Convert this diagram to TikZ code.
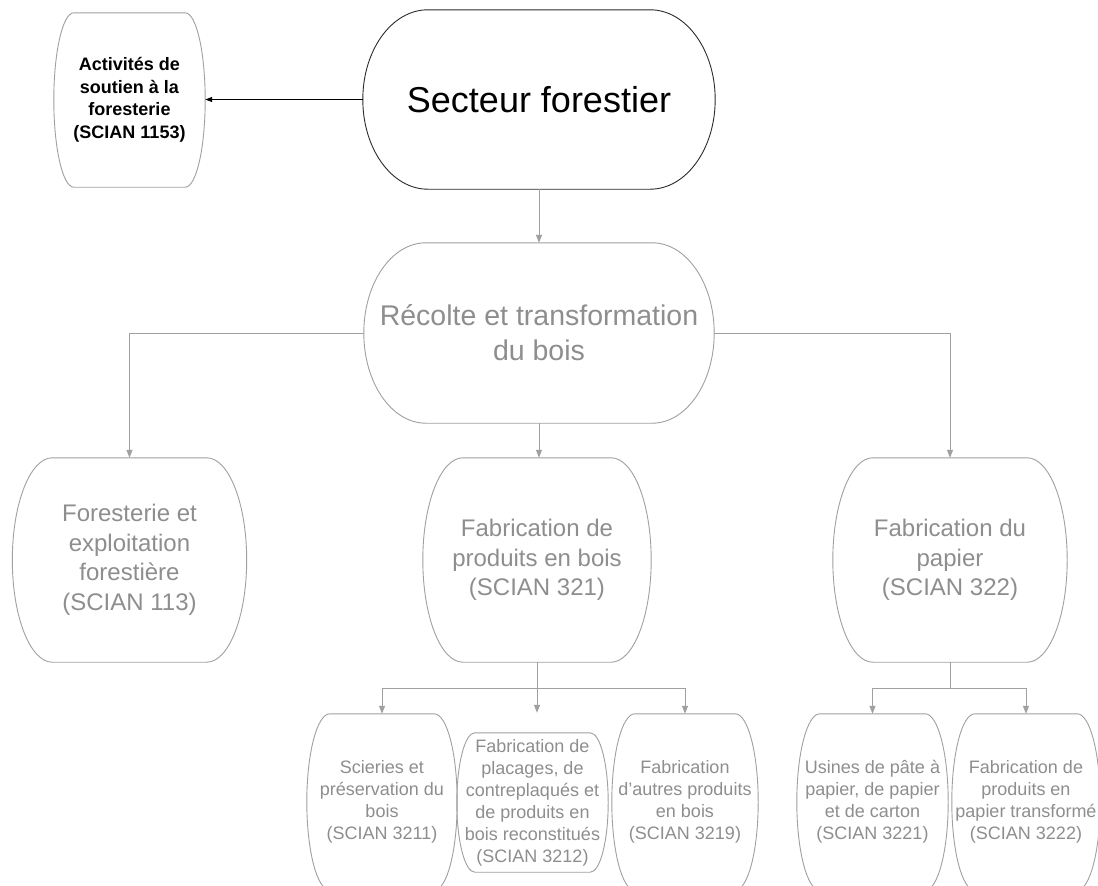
\documentclass[tikz,border=0pt]{standalone}
\usepackage{fontspec}
\setmainfont{Liberation Sans}
\usepackage{tikz}
\usetikzlibrary{arrows.meta,calc}
\definecolor{linegray}{HTML}{A0A0A0}
\definecolor{textgray}{HTML}{8E8E8E}
\definecolor{edgedark}{HTML}{2B2B2B}
\newcommand{\capsule}[3][linegray]{%
  \draw[#1,line width=0.9pt] let \p1=(#2.north east), \p2=(#2.south west), \n1={(\y1-\y2)/2} in
    (\x2+#3,\y1) -- (\x1-#3,\y1) arc[start angle=90,end angle=-90,x radius=#3,y radius=\n1]
    -- (\x2+#3,\y2) arc[start angle=270,end angle=90,x radius=#3,y radius=\n1] -- cycle;}

\begin{document}
\begin{tikzpicture}[x=1pt,y=-1pt,
  box/.style={rectangle,inner sep=2pt,align=center,text=textgray},
  big/.style={box,font=\fontsize{24}{29.5}\selectfont,minimum height=204pt},
  small/.style={box,font=\fontsize{18}{22}\selectfont,minimum width=150pt},
  gl/.style={draw=linegray,line width=1pt,-{Triangle[length=8pt,width=6pt]}},
  bl/.style={draw=black,line width=1pt,-{Triangle[length=7pt,width=5pt]}}]
\fill[white] (0,0) rectangle (1098,886);
\useasboundingbox (0,0) rectangle (1098,886);
\node[box,text=black,font=\bfseries\fontsize{18}{22.5}\selectfont,
      minimum width=151pt,minimum height=174pt] (act) at (129.5,100)
  {Activités de\\soutien à la\\foresterie\\(SCIAN 1153)};
\node[box,text=black,font=\fontsize{36}{43}\selectfont,
      minimum width=352pt,minimum height=179pt] (sect) at (539,99.5) {Secteur forestier};
\node[box,font=\fontsize{28.5}{35}\selectfont,
      minimum width=350pt,minimum height=180pt] (rec) at (539,333)
  {Récolte et transformation\\du bois};
\node[big,minimum width=234pt] (for) at (129.5,560)
  {Foresterie et\\exploitation\\forestière\\(SCIAN 113)};
\node[big,minimum width=228pt] (fabb) at (537,560)
  {Fabrication de\\produits en bois\\(SCIAN 321)};
\node[big,minimum width=234pt] (pap) at (950,560)
  {Fabrication du\\papier\\(SCIAN 322)};
\node[small,minimum height=176pt] (sci) at (382,802) {Scieries et\\préservation du\\bois\\(SCIAN 3211)};
\node[small,minimum width=151pt,minimum height=139pt] (plac) at (532.5,802.5)
  {Fabrication de\\placages, de\\contreplaqués et\\de produits en\\bois reconstitués\\(SCIAN 3212)};
\node[small,minimum width=146pt,minimum height=176pt] (aut) at (685,802)
  {Fabrication\\d'autres produits\\en bois\\(SCIAN 3219)};
\node[small,minimum width=151pt,minimum height=176pt] (usi) at (872.5,802)
  {Usines de pâte à\\papier, de papier\\et de carton\\(SCIAN 3221)};
\node[small,minimum width=148pt,minimum height=176pt] (ppt) at (1026,802)
  {Fabrication de\\produits en\\papier transformé\\(SCIAN 3222)};
% outlines
\capsule{act}{20pt}
\capsule[edgedark]{sect}{65pt}
\capsule{rec}{62pt}
\capsule{for}{40pt}
\capsule{fabb}{40pt}
\capsule{pap}{40pt}
\capsule{sci}{23pt}
\capsule{plac}{18pt}
\capsule{aut}{23pt}
\capsule{usi}{23pt}
\capsule{ppt}{23pt}
% connectors
\coordinate (jb) at ([yshift=-26pt]fabb.south);
\coordinate (jp) at ([yshift=-26pt]pap.south);
\coordinate (tp) at ([yshift=20pt]plac.north);
\draw[bl] (sect.west) -- (act.east |- sect.west);
\draw[gl] (sect.south) -- (rec.north);
\draw[gl] (rec.west) -| (for.north);
\draw[gl] (rec.south) -- (rec.south |- fabb.north);
\draw[gl] (rec.east) -| (pap.north);
\draw[gl] (fabb.south) -- (jb) -| (sci.north);
\draw[gl] (jb) -| (aut.north);
\draw[gl] (jb) -- (jb |- tp);
\draw[gl] (pap.south) -- (jp) -| (usi.north);
\draw[gl] (jp) -| (ppt.north);
\end{tikzpicture}
\end{document}
